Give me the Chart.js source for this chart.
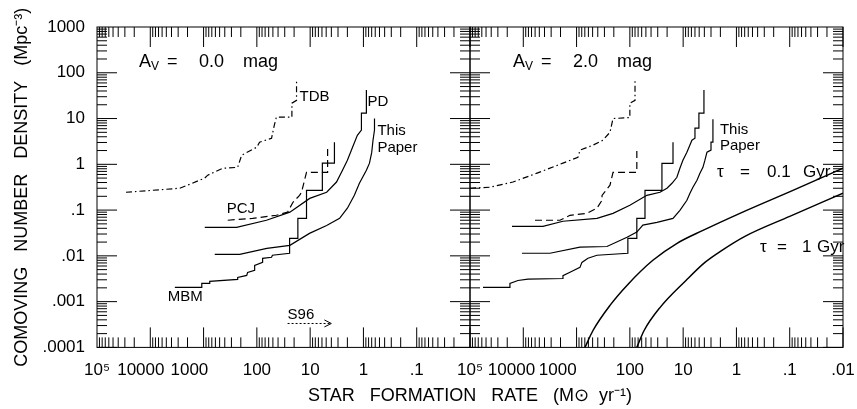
<!DOCTYPE html>
<html>
<head>
<meta charset="utf-8">
<script src="https://cdn.jsdelivr.net/npm/chart.js@4.4.1/dist/chart.umd.min.js"></script>
<style>
  html, body { margin: 0; padding: 0; background: #fff; }
  #wrap { width: 857px; height: 409px; }
</style>
</head>
<body>
<div id="wrap"><canvas id="chart" width="857" height="409"></canvas></div>
<script>
// tick values and labels
const xDecades = [0.01, 0.1, 1, 10, 100, 1000, 10000, 100000];
const xLabelsLeft = ['', '.1', '1', '10', '100', '1000', '10000', '10⁵'];
const xLabelsRight = ['.01', '.1', '1', '10', '100', '1000', '10000', '10⁵'];
// trailing spaces pull the crowded labels leftwards, as in the original plot
const xPadLeft = [0, 0, 0, 0, 0, 6, 4, 0];
const xPadRight = [0, 0, 0, 0, 0, 8, 5, 0];
const yDecades = [1e-4, 1e-3, 1e-2, 0.1, 1, 10, 100, 1000];
const yLabels = ['.0001', '.001', '.01', '.1', '1', '10', '100', '1000'];

// A_V = 0.0 mag panel: [star formation rate, comoving density]
const tdbAv0 = [[28600, 0.245], [2790, 0.30], [1810, 0.367], [950, 0.50], [835, 0.58], [437, 0.82], [229, 0.86],
  [193, 1.58], [100, 2.37], [89, 3.05], [53, 3.7], [47, 7.2], [43, 10.7], [22, 10.7], [22, 21.7], [18, 25], [18, 69]];
const pcjAv0 = [[352, 0.060], [120, 0.066], [43, 0.077], [26.5, 0.090], [21, 0.148], [15.8, 0.21], [14.5, 0.245],
  [11.7, 0.67], [4.7, 0.67], [4.7, 2.5]];
const pdAv0 = [[950, 0.042], [240, 0.042], [66, 0.060], [24, 0.090], [10.2, 0.18], [4.9, 0.245], [3.2, 0.41],
  [2.47, 0.74], [2.0, 1.23], [1.6, 2.37], [1.3, 4.3], [1.09, 5.6], [1.09, 13.1], [0.88, 13.1], [0.88, 41.8]];
const thisAv0 = [[617, 0.0108], [210, 0.0108], [65, 0.0146], [24, 0.017], [10.3, 0.031], [4.9, 0.046], [2.8, 0.066],
  [2.0, 0.11], [1.48, 0.21], [1.19, 0.385], [0.88, 0.74], [0.77, 1.06], [0.7, 1.8], [0.66, 3.4], [0.62, 5.6], [0.62, 10]];
const mbmAv0 = [[3460, 0.00205], [1080, 0.00205], [1080, 0.0025], [766, 0.0025], [766, 0.00277], [229, 0.00306],
  [229, 0.00339], [155, 0.00374], [149, 0.00435], [110, 0.00482], [110, 0.0062], [78, 0.0072], [78, 0.0088],
  [53, 0.0093], [51, 0.0103], [24.3, 0.0114], [24.3, 0.024], [17, 0.024], [17, 0.066], [11.7, 0.066], [11.7, 0.27],
  [5.9, 0.27], [5.9, 1.06], [3.5, 1.06], [3.5, 3.05]];
const s96Line = [[26.5, 3.33e-4], [4.0, 3.33e-4]];
const s96Head = [[5.4, 3.98e-4], [4.0, 3.33e-4], [5.4, 2.8e-4]];

// A_V = 2.0 mag panel
const tdbAv2 = [[100000, 0.30], [42200, 0.316], [15600, 0.41], [5530, 0.64], [1800, 1.06], [942, 1.43], [863, 2.04],
  [492, 2.62], [320, 3.37], [236, 5.0], [207, 10], [100, 10.5], [100, 21.7], [80, 25], [80, 69]];
const pcjAv2 = [[6030, 0.060], [2050, 0.060], [1330, 0.077], [638, 0.085], [414, 0.11], [333, 0.164], [333, 0.21],
  [236, 0.35], [207, 0.67], [74, 0.67], [74, 2.25]];
const pdAv2 = [[16300, 0.044], [4270, 0.044], [1800, 0.057], [414, 0.066], [207, 0.085], [100, 0.127], [48, 0.21],
  [27.2, 0.245], [20.1, 0.30], [16.2, 0.385], [13.1, 0.52], [11.5, 0.82], [10.1, 1.23], [8.5, 1.84], [6.84, 3.37],
  [6.0, 3.72], [6.0, 6.17], [5.06, 6.17], [5.06, 13.1], [4.07, 13.1], [4.07, 41.8]];
const thisAv2 = [[10600, 0.0114], [3160, 0.0114], [863, 0.0155], [269, 0.016], [113, 0.0254], [74, 0.033], [57, 0.047],
  [31, 0.054], [15.5, 0.066], [11.5, 0.099], [8.5, 0.164], [7.45, 0.233], [6.55, 0.315], [5.5, 0.45], [4.84, 0.64],
  [4.25, 0.86], [3.9, 1.23], [3.57, 1.84], [3.0, 2.04], [3.0, 3.05], [2.76, 3.05], [2.76, 9.7]];
const mbmAv2 = [[57000, 0.00204], [17800, 0.00204], [17800, 0.0025], [12600, 0.0029], [8170, 0.0031], [1800, 0.0032],
  [1800, 0.0037], [1330, 0.0044], [863, 0.0056], [794, 0.0072], [611, 0.0089], [414, 0.0103], [109, 0.0114],
  [109, 0.024], [74, 0.024], [74, 0.066], [52, 0.066], [52, 0.27], [25, 0.27], [25, 1.05], [15.5, 1.05], [15.5, 3.05]];
const tau01 = [[695, 1e-4], [492, 0.000234], [236, 0.00083], [109, 0.00238], [37, 0.008], [13, 0.0188], [4.25, 0.036],
  [0.86, 0.085], [0.087, 0.27], [0.01, 0.82]];
const tau1 = [[74, 1e-4], [54, 0.000234], [27, 0.00075], [8.85, 0.0029], [3.9, 0.0072], [1.87, 0.0132], [0.693, 0.0267],
  [0.1, 0.073], [0.01, 0.233]];

// text annotations, anchored in data space; parts are [text, dx, dy, size]
const notes = [
  { axis: 'x', x: 15.8, y: 29.4, parts: [['TDB', 0]] },
  { axis: 'x', x: 0.84, y: 22.9, parts: [['PD', 0]] },
  { axis: 'x', x: 0.547, y: 5.3, parts: [['This', 0]] },
  { axis: 'x', x: 0.547, y: 2.25, parts: [['Paper', 0]] },
  { axis: 'x', x: 368, y: 0.104, parts: [['PCJ', 0]] },
  { axis: 'x', x: 4680, y: 0.0013, parts: [['MBM', 0]] },
  { axis: 'x', x: 26.5, y: 0.000525, parts: [['S96', 0]] },
  { axis: 'x', x: 16300, y: 171, parts: [['A', 0, 0, 18], ['V', 12, 5, 12], ['=', 28, 0, 18], ['0.0', 60, 0, 18], ['mag', 104, 0, 18]] },
  { axis: 'x2', x: 2.04, y: 5.6, parts: [['This', 0]] },
  { axis: 'x2', x: 2.04, y: 2.49, parts: [['Paper', 0]] },
  { axis: 'x2', x: 15600, y: 171, parts: [['A', 0, 0, 18], ['V', 12, 5, 12], ['=', 28, 0, 18], ['2.0', 60, 0, 18], ['mag', 104, 0, 18]] },
  { axis: 'x2', x: 2.32, y: 0.67, parts: [['τ', 0, 0, 17], ['=', 23, 0, 17], ['0.1', 50, 0, 17], ['Gyr', 86, 0, 17]] },
  { axis: 'x2', x: 0.362, y: 0.0153, parts: [['τ', 0, 0, 17], ['=', 17, 0, 17], ['1', 42, 0, 17], ['Gyr', 57, 0, 17]] }
];

const FONT = '"Liberation Sans", Arial, Helvetica, sans-serif';
Chart.defaults.font.family = FONT;
Chart.defaults.color = '#000';

function curve(data, axis, extra) {
  return Object.assign({
    data: data, xAxisID: axis, yAxisID: 'y',
    borderColor: '#000', borderWidth: 1.2, pointRadius: 0, fill: false, tension: 0
  }, extra || {});
}

function sfrAxis(labels, pad) {
  return {
    type: 'logarithmic', position: 'bottom', stack: 'sfr', stackWeight: 1,
    min: 0.01, max: 100000, reverse: true,
    grid: { display: false, drawTicks: false },
    border: { display: false },
    afterBuildTicks: s => { s.ticks = xDecades.map(v => ({ value: v })); },
    afterFit: s => { s.height = 30; },
    ticks: {
      autoSkip: false, maxRotation: 0, minRotation: 0, padding: 13,
      font: { size: 17 },
      callback: (v, i) => labels[i] + ' '.repeat(pad[i])
    }
  };
}

const frame = {
  id: 'frame',
  afterDatasetsDraw(chart) {
    const ctx = chart.ctx;
    const ys = chart.scales.y;
    ctx.save();
    ctx.strokeStyle = '#000';
    ctx.lineWidth = 1;
    ['x', 'x2'].forEach(id => {
      const xs = chart.scales[id];
      ctx.strokeRect(xs.left, ys.top, xs.right - xs.left, ys.bottom - ys.top);
      ctx.beginPath();
      for (let d = 0.01; d < 100000; d *= 10) {
        for (let m = 1; m <= 9; m++) {
          const px = xs.getPixelForValue(d * m);
          const len = m === 1 ? 20 : 10;
          ctx.moveTo(px, ys.bottom); ctx.lineTo(px, ys.bottom - len);
          ctx.moveTo(px, ys.top); ctx.lineTo(px, ys.top + len);
        }
      }
      for (let d = 1e-4; d < 1000; d *= 10) {
        for (let m = 1; m <= 9; m++) {
          const py = ys.getPixelForValue(d * m);
          const len = m === 1 ? 20 : 10;
          ctx.moveTo(xs.left, py); ctx.lineTo(xs.left + len, py);
          ctx.moveTo(xs.right, py); ctx.lineTo(xs.right - len, py);
        }
      }
      ctx.stroke();
    });

    ctx.fillStyle = '#000';
    ctx.textBaseline = 'middle';
    ctx.textAlign = 'left';
    notes.forEach(n => {
      const px = chart.scales[n.axis].getPixelForValue(n.x);
      const py = ys.getPixelForValue(n.y);
      n.parts.forEach(([text, dx, dy, size]) => {
        ctx.font = (size || 15) + 'px ' + FONT;
        ctx.fillText(text, px + dx, py + (dy || 0));
      });
    });
    ctx.restore();
  }
};

const dashDot = [6, 3, 1.5, 3];
const dashed = [7, 4];

new Chart(document.getElementById('chart'), {
  type: 'line',
  data: {
    datasets: [
      curve(tdbAv0, 'x', { borderDash: dashDot }),
      curve(pcjAv0, 'x', { borderDash: dashed }),
      curve(pdAv0, 'x'),
      curve(thisAv0, 'x'),
      curve(mbmAv0, 'x'),
      curve(s96Line, 'x', { borderDash: [2, 2], borderWidth: 1 }),
      curve(s96Head, 'x', { borderWidth: 1 }),
      curve(tdbAv2, 'x2', { borderDash: dashDot }),
      curve(pcjAv2, 'x2', { borderDash: dashed }),
      curve(pdAv2, 'x2'),
      curve(thisAv2, 'x2'),
      curve(mbmAv2, 'x2'),
      curve(tau01, 'x2', { borderWidth: 1.5, cubicInterpolationMode: 'monotone' }),
      curve(tau1, 'x2', { borderWidth: 1.5, cubicInterpolationMode: 'monotone' })
    ]
  },
  options: {
    responsive: false,
    animation: false,
    layout: { padding: { top: 27, right: 14, bottom: 0, left: 0 } },
    scales: {
      x: sfrAxis(xLabelsLeft, xPadLeft),
      x2: sfrAxis(xLabelsRight, xPadRight),
      y: {
        type: 'logarithmic', position: 'left', min: 1e-4, max: 1000,
        grid: { display: false, drawTicks: false },
        border: { display: false },
        afterBuildTicks: s => { s.ticks = yDecades.map(v => ({ value: v })); },
        afterFit: s => { s.width = 97; },
        ticks: { autoSkip: false, padding: 12, font: { size: 17 }, callback: (v, i) => yLabels[i] },
        title: {
          display: true, text: 'COMOVING   NUMBER   DENSITY   (Mpc⁻³)',
          font: { size: 18 }, padding: { top: 11, bottom: 0 }
        }
      }
    },
    plugins: {
      legend: { display: false },
      tooltip: { enabled: false },
      title: {
        display: true, position: 'bottom', fullSize: false,
        text: 'STAR   FORMATION   RATE   (M⊙  yr⁻¹)',
        font: { size: 18, weight: 'normal' }, color: '#000',
        padding: { top: 8, bottom: 2 }
      }
    }
  },
  plugins: [frame]
});
</script>
</body>
</html>
